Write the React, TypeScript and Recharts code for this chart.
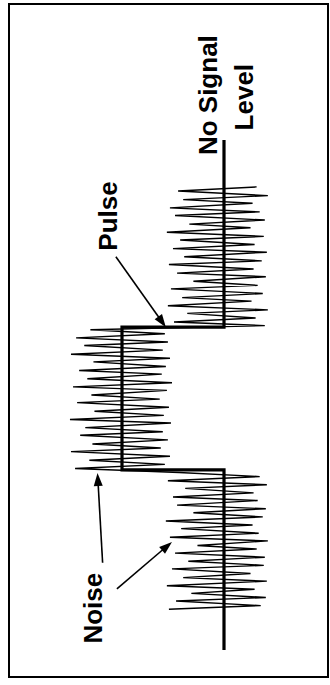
import { Line, LineChart, ReferenceDot, ReferenceLine, XAxis, YAxis } from "recharts";

// Drawn in its natural (horizontal) orientation, then turned 90deg CCW like the source figure.
const W = 685;
const H = 330;

// ideal pulse: no signal level = 0, pulse level = 10
const PULSE_T = [0, 35.3, 35.3, 63.3, 63.3, 100];
const PULSE_V = [0, 0, 10, 10, 0, 0];

// noise riding on the signal
const NOISE_T = [
  8.0, 8.7, 9.6, 10.3, 11.1, 11.9, 12.6, 13.5, 14.2, 15.0, 15.9, 16.6, 17.4, 18.2, 19.0, 19.8, 20.5, 21.4,
  22.1, 22.9, 23.8, 24.5, 25.3, 26.1, 26.9, 27.7, 28.4, 29.3, 30.0, 30.8, 31.7, 32.4, 33.2, 34.0, 34.8,
  35.6, 36.4, 37.2, 38.0, 38.9, 39.6, 40.4, 41.2, 42.1, 42.8, 43.6, 44.5, 45.2, 46.0, 46.8, 47.6, 48.5,
  49.2, 50.0, 50.9, 51.6, 52.4, 53.2, 54.1, 54.8, 55.6, 56.5, 57.2, 58.0, 58.8, 59.7, 60.4, 61.2, 62.0, 62.8,
  63.6, 64.3, 65.1, 66.0, 66.7, 67.5, 68.4, 69.1, 69.9, 70.8, 71.5, 72.3, 73.2, 73.9, 74.7, 75.6, 76.3,
  77.1, 78.0, 78.7, 79.5, 80.4, 81.1, 81.9, 82.8, 83.5, 84.3, 85.2, 85.9, 86.7, 87.6, 88.3, 89.1, 90.0,
  90.8, 91.6,
];
const NOISE_V = [
  5.4, -3.6, 4.7, -4.1, 3.2, -3.0, 5.6, -4.2, 4.0, -2.6, 5.1, -3.9, 3.5, -4.0, 4.8, -3.2, 2.6, -4.3,
  5.3, -3.4, 4.2, -2.8, 5.7, -3.8, 3.0, -4.1, 4.6, -3.3, 5.0, -2.9, 3.8, -4.2, 5.5, -3.5, 4.4,
  14.6, 5.8, 13.2, 5.3, 15.0, 6.2, 12.9, 5.5, 14.1, 6.0, 13.6, 5.2, 15.1, 5.9, 12.7, 5.4, 14.4,
  6.3, 13.0, 5.6, 14.8, 5.1, 13.4, 6.1, 14.2, 5.7, 12.8, 5.3, 15.0, 6.0, 13.7, 5.5, 14.5, 5.8, 13.1,
  -4.0, 4.9, -3.1, 3.6, -4.3, 5.5, -2.7, 4.1, -3.8, 5.2, -3.3, 3.0, -4.1, 4.6, -2.9, 5.4, -3.7,
  3.9, -4.2, 5.0, -3.0, 4.3, -3.9, 5.6, -2.6, 3.4, -4.0, 4.8, -3.5, 5.3, -2.8, 4.0, -4.3,
  4.5, -3.2,
];

const LABELS = ["No Signal", "Level", "Pulse", "Noise"];
const LABEL_T = [108.8, 108.4, 85.1, 8.2];
const LABEL_V = [0.7, -2.8, 10.5, 12.0];

// annotation arrows: from (t, v) to tip (t, v)
const ARROW_FROM_T = [77.1, 17.1, 12.0];
const ARROW_FROM_V = [10.6, 11.9, 10.5];
const ARROW_TO_T = [63.3, 34.7, 21.2];
const ARROW_TO_V = [5.7, 12.4, 5.1];

const pulseData = PULSE_T.map((t, i) => ({ t, v: PULSE_V[i] }));
const noiseData = NOISE_T.map((t, i) => ({ t, v: NOISE_V[i] }));

const FONT = '"Liberation Sans", Arial, Helvetica, sans-serif';

function Arrow(p: any) {
  const { x1, y1, x2, y2 } = p;
  const dx = x2 - x1;
  const dy = y2 - y1;
  const len = Math.sqrt(dx * dx + dy * dy) || 1;
  const ux = dx / len;
  const uy = dy / len;
  const L = 13;
  const hw = 4.5;
  const bx = x2 - ux * L;
  const by = y2 - uy * L;
  const pts = `${x2},${y2} ${bx - uy * hw},${by + ux * hw} ${bx + uy * hw},${by - ux * hw}`;
  return (
    <g>
      <line x1={x1} y1={y1} x2={bx + ux * 2} y2={by + uy * 2} stroke="#000" strokeWidth={1.6} />
      <polygon points={pts} fill="#000" />
    </g>
  );
}

export default function App() {
  return (
    <div style={{ position: "absolute", left: 0, top: 0, width: H, height: W, overflow: "hidden", background: "#fff" }}>
      <div
        style={{
          position: "absolute",
          left: 0,
          top: 0,
          width: W,
          height: H,
          transformOrigin: "0 0",
          transform: `translate(0px, ${W}px) rotate(-90deg)`,
        }}
      >
        <div
          style={{
            position: "absolute",
            left: 7,
            top: 8,
            width: 675,
            height: 321,
            boxSizing: "border-box",
            border: "2px solid #000",
          }}
        />
        <div style={{ position: "absolute", left: 0, top: 0 }}>
          <LineChart width={W} height={H} margin={{ top: 20, right: 140, bottom: 4, left: 35 }}>
            <XAxis dataKey="t" type="number" domain={[0, 100]} hide />
            <YAxis type="number" domain={[-10, 20]} hide width={0} />
            <Line
              data={pulseData}
              dataKey="v"
              type="linear"
              stroke="#000"
              strokeWidth={3.2}
              strokeLinejoin="miter"
              dot={false}
              isAnimationActive={false}
            />
            <Line
              data={noiseData}
              dataKey="v"
              type="linear"
              stroke="#000"
              strokeWidth={1.4}
              dot={false}
              isAnimationActive={false}
            />
            {ARROW_FROM_T.map((t, i) => (
              <ReferenceLine
                key={`a${i}`}
                segment={[
                  { x: t, y: ARROW_FROM_V[i] },
                  { x: ARROW_TO_T[i], y: ARROW_TO_V[i] },
                ]}
                ifOverflow="visible"
                shape={(p: any) => <Arrow {...p} />}
              />
            ))}
            {LABELS.map((txt, i) => (
              <ReferenceDot
                key={txt}
                x={LABEL_T[i]}
                y={LABEL_V[i]}
                r={0}
                ifOverflow="visible"
                shape={(p: any) => (
                  <text
                    x={p.cx}
                    y={p.cy}
                    textAnchor="middle"
                    fontFamily={FONT}
                    fontWeight={700}
                    fontSize={26}
                    fill="#000"
                  >
                    {txt}
                  </text>
                )}
              />
            ))}
          </LineChart>
        </div>
      </div>
    </div>
  );
}
